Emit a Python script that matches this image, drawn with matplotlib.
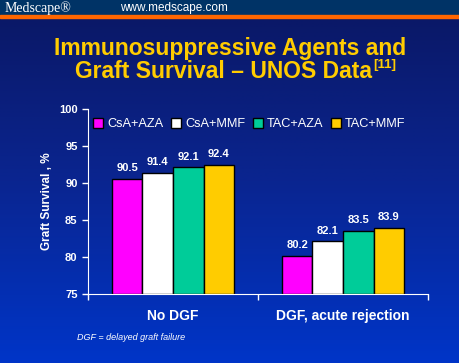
import numpy as np
import matplotlib.pyplot as plt
from matplotlib.colors import LinearSegmentedColormap

# data
groups = ['No DGF', 'DGF, acute rejection']
regimens = ['CsA+AZA', 'CsA+MMF', 'TAC+AZA', 'TAC+MMF']
csa_aza = [90.5, 80.2]
csa_mmf = [91.4, 82.1]
tac_aza = [92.1, 83.5]
tac_mmf = [92.4, 83.9]
colors = ['#ff00ff', '#ffffff', '#00cc99', '#ffcc00']
yticks = [75, 80, 85, 90, 95, 100]

plt.rcParams['font.family'] = ['Liberation Sans', 'DejaVu Sans']

fig = plt.figure(figsize=(4.6, 3.63), dpi=100)

# background gradient
bg = fig.add_axes([0, 0, 1, 1])
cmap = LinearSegmentedColormap.from_list('bg', ['#0a1763', '#0a2590', '#0035c8'])
grad = np.linspace(0, 1, 256).reshape(-1, 1)
bg.imshow(grad, aspect='auto', cmap=cmap, extent=[0, 1, 0, 1], origin='upper')
bg.set_xlim(0, 1)
bg.set_ylim(0, 1)
bg.axis('off')

# header bar
bg.add_patch(plt.Rectangle((0, 1 - 15 / 363), 1, 15 / 363, color='#003366', zorder=2))
bg.add_patch(plt.Rectangle((0, 1 - 18 / 363), 1, 3 / 363, color='#ff6600', zorder=2))
fig.text(0.01, 1 - 8 / 363, 'Medscape\u00ae', family='Liberation Serif', color='white',
         fontsize=10, va='center', ha='left')
fig.text(0.26, 1 - 8 / 363, 'www.medscape.com', color='white', fontsize=8.5,
         va='center', ha='left')

# title
fig.text(0.5, 1 - 48 / 363, 'Immunosuppressive Agents and', color='#ffcc00',
         fontsize=16.5, fontweight='bold', ha='center', va='center')
t2 = fig.text(0.486, 1 - 72 / 363, 'Graft Survival \u2013 UNOS Data', color='#ffcc00',
              fontsize=16.5, fontweight='bold', ha='center', va='center')
bg.annotate('[11]', xy=(1, 1), xycoords=t2, xytext=(1, 1), textcoords='offset points',
            color='#ffcc00', fontsize=9.5, fontweight='bold', ha='left', va='top')

ax = fig.add_axes([88 / 460, 1 - 294 / 363, 340 / 460, 185 / 363])
ax.set_facecolor('none')
x = np.arange(len(groups))
w = 0.18
series = [csa_aza, csa_mmf, tac_aza, tac_mmf]
for i, (vals, c, lab) in enumerate(zip(series, colors, regimens)):
    pos = x + (i - 1.5) * w
    ax.bar(pos, np.array(vals) - 75, width=w, bottom=75, color=c,
           edgecolor='black', linewidth=1, label=lab)
    for p, v in zip(pos, vals):
        ax.text(p, v + 0.8, '%.1f' % v, color='white', fontsize=8, fontweight='bold',
                ha='center', va='bottom')

ax.set_xlim(-0.5, 1.5)
ax.set_ylim(75, 100)
ax.set_yticks(yticks)
ax.set_yticklabels([str(t) for t in yticks], color='white', fontsize=8, fontweight='bold')
ax.set_xticks([-0.5, 0.5, 1.5])
ax.set_xticklabels([])
ax.tick_params(axis='both', colors='white', length=4, width=1)
for s in ['top', 'right']:
    ax.spines[s].set_visible(False)
for s in ['left', 'bottom']:
    ax.spines[s].set_color('white')
for xi, g in zip(x, groups):
    ax.text(xi, 75 - 3.0, g, color='white', fontsize=10, fontweight='bold',
            ha='center', va='center')
ax.set_ylabel('Graft Survival , %', color='white', fontsize=8.5, fontweight='bold', labelpad=4)

leg = ax.legend(loc='upper left', bbox_to_anchor=(0.0, 0.98), ncol=4, frameon=False,
                fontsize=9.2, handlelength=0.8, handleheight=0.8, handletextpad=0.3,
                columnspacing=0.6, borderaxespad=0)
for t in leg.get_texts():
    t.set_color('white')

fig.text(77 / 460, 1 - 337 / 363, 'DGF = delayed graft failure', color='white',
         fontsize=6.5, style='italic', ha='left', va='center')

fig.savefig('out.png', dpi=100)
